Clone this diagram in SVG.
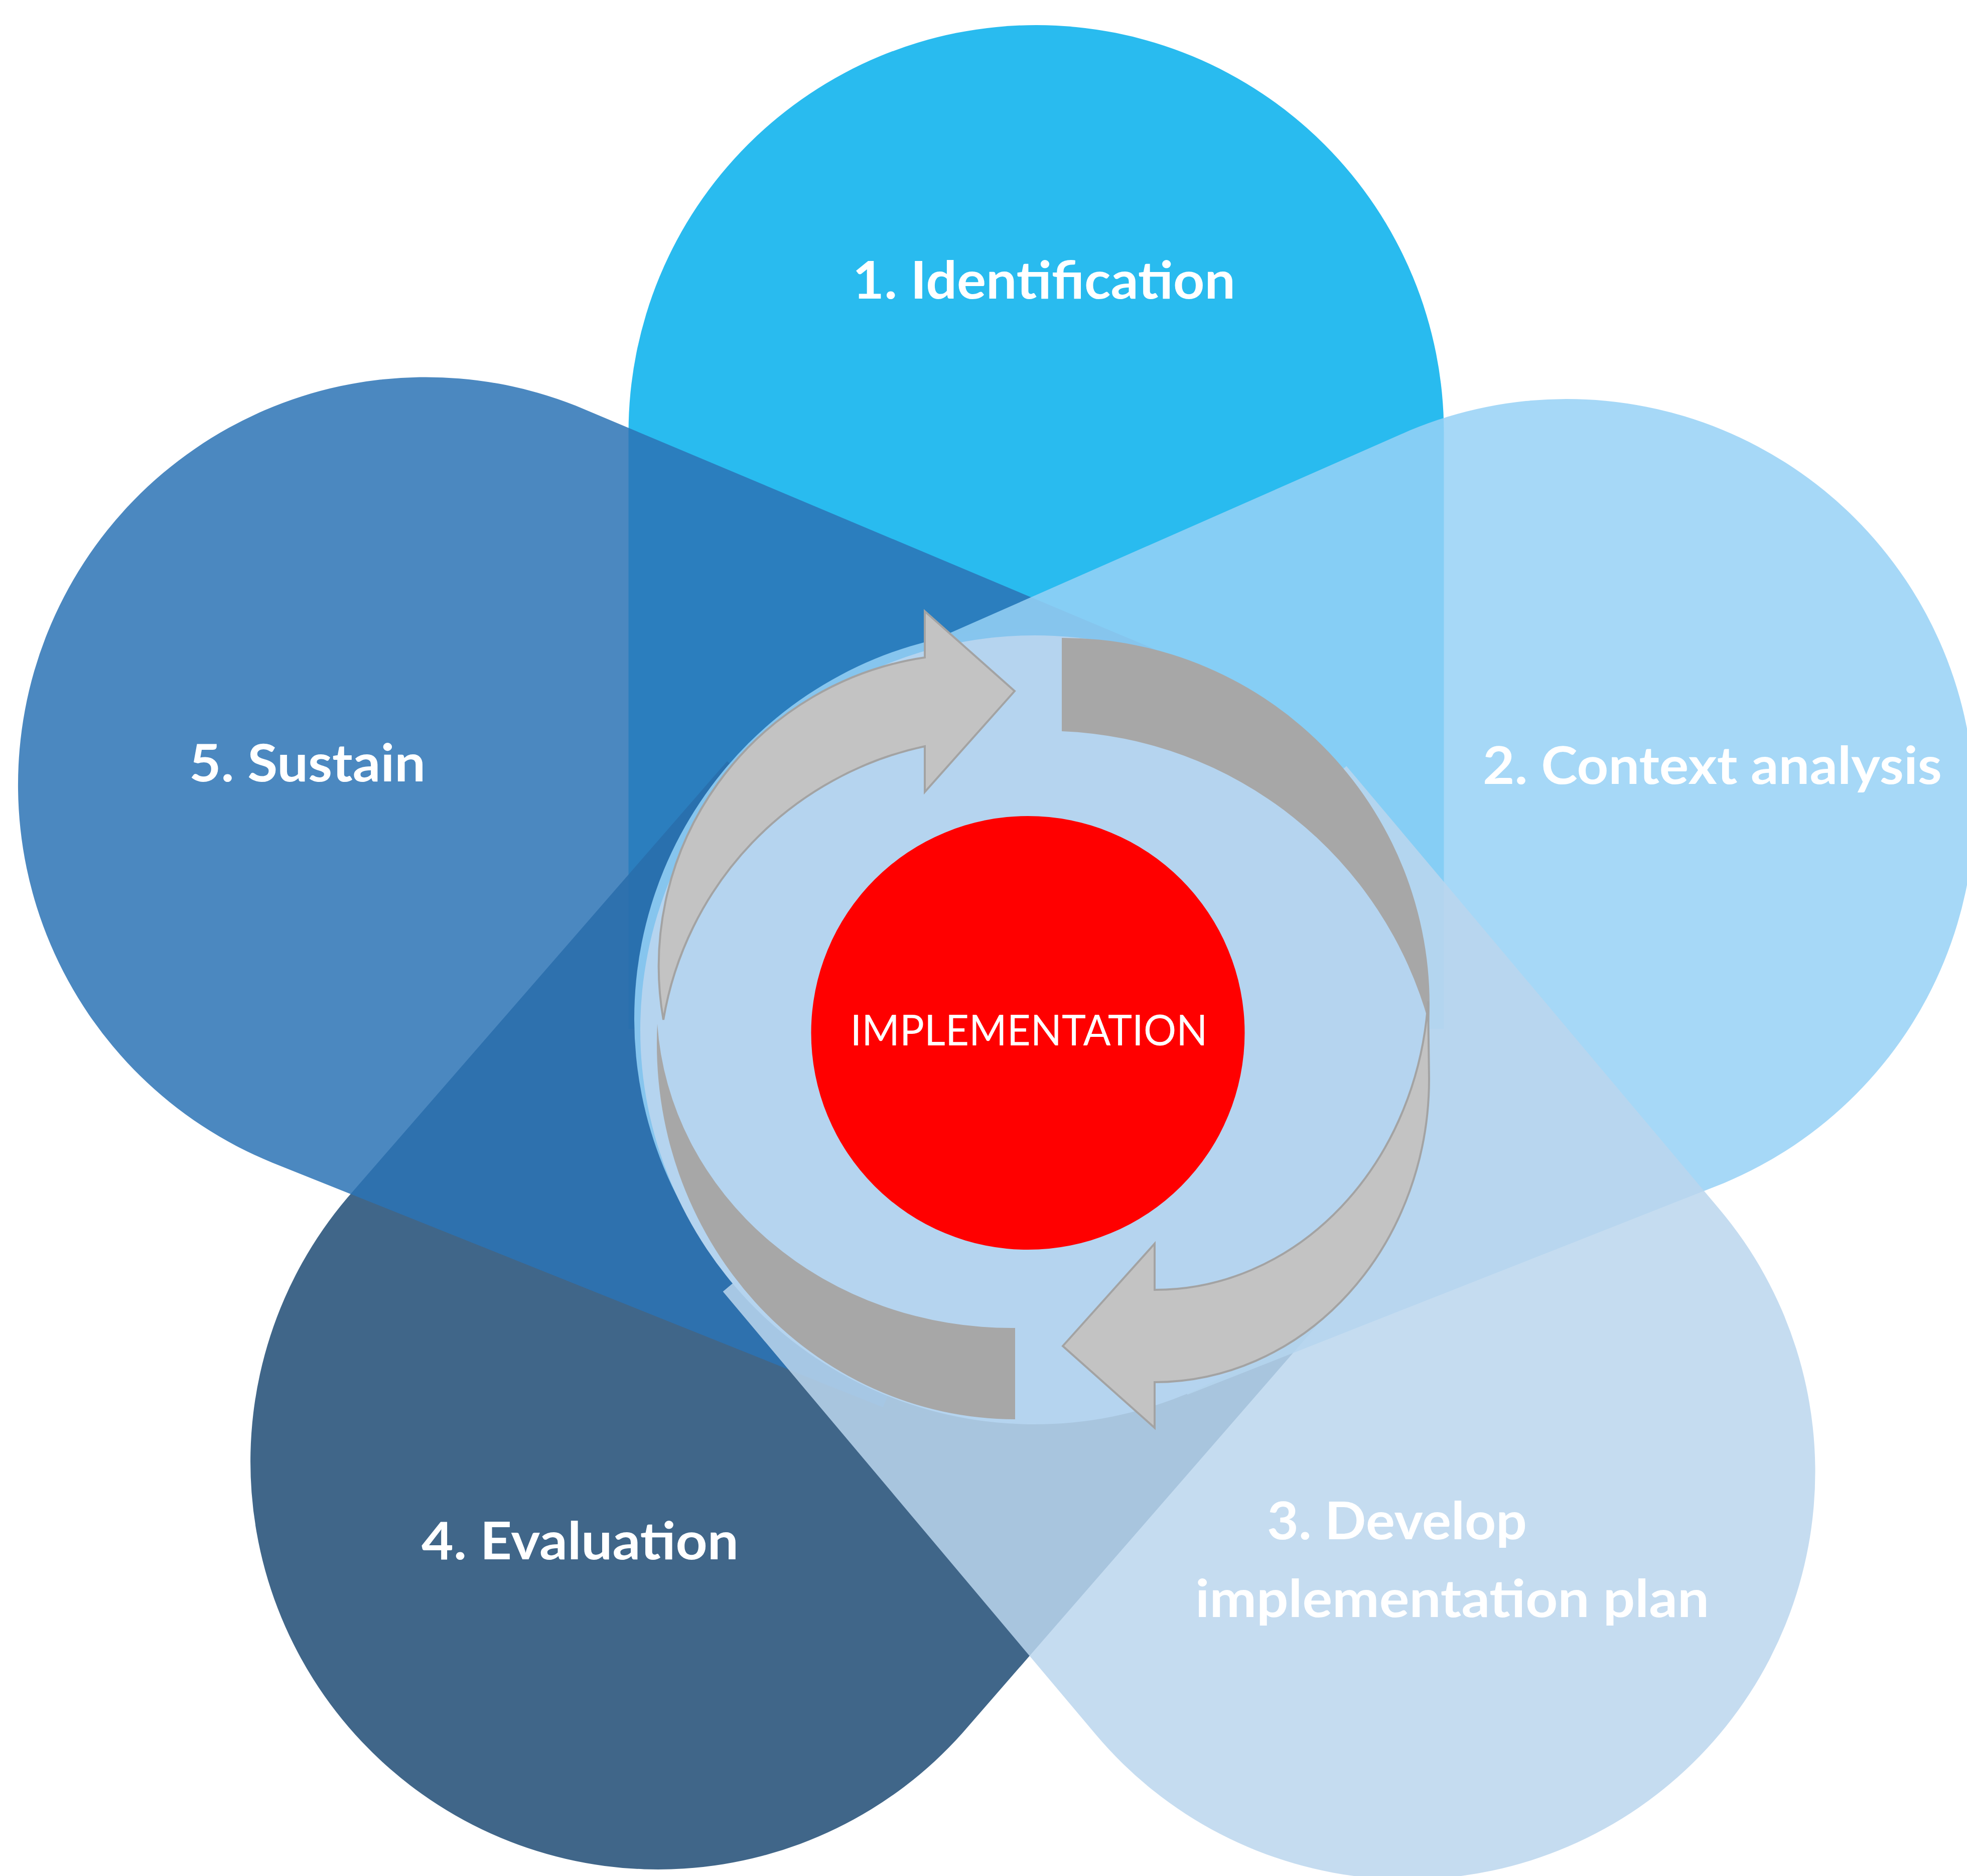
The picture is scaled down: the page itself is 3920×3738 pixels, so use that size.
<svg xmlns="http://www.w3.org/2000/svg" width="3920" height="3738" viewBox="0 0 3920 3738">
<style>
.petal{fill-opacity:0.85}
.lbl{font-family:Lato,"Open Sans","Liberation Sans",sans-serif;font-weight:700;font-size:103px;fill:#ffffff}
.clbl{font-family:Lato,"Open Sans","Liberation Sans",sans-serif;font-weight:400;font-size:85px;fill:#ffffff}
.light{fill:#C3C3C3;stroke:#A3A3A3;stroke-width:4;stroke-linejoin:miter}
.dark{fill:#A7A7A7}
</style>
<rect x="0" y="0" width="3920" height="3738" fill="#ffffff"/>
<g id="petal-1">
<path class="petal" fill="#03AFEC" d="M 2877.5 2050 L 2877.5 862.5 A 812.5 812.5 0 0 0 1252.5 862.5 L 1252.5 2050 Z"/>
<text class="lbl" x="1699" y="595" textLength="763" lengthAdjust="spacingAndGlyphs">1. Identification</text>
</g>
<g id="petal-4">
<path class="petal" fill="#1F4B74" d="M 1449.1 1516.7 L 692.1 2386.7 A 812.5 812.5 0 0 0 1917.9 3453.3 L 2674.9 2583.3 Z"/>
<text class="lbl" x="840" y="3107" textLength="632" lengthAdjust="spacingAndGlyphs">4. Evaluation</text>
</g>
<g id="petal-5">
<path class="petal" fill="#2C73B5" d="M 2355.8 1316.6 L 1147.2 808.3 A 812.5 812.5 0 0 0 542.8 2316.7 L 1759.8 2804.2 Z"/>
<text class="lbl" x="377" y="1557" textLength="471" lengthAdjust="spacingAndGlyphs">5. Sustain</text>
</g>
<g id="petal-2">
<path class="petal" fill="#96D1F6" d="M 2366.2 2779.1 L 3435.4 2357.4 A 812.5 812.5 0 0 0 2809.6 857.6 L 1757.8 1320.9 Z"/>
<text class="lbl" x="2955" y="1562" textLength="915" lengthAdjust="spacingAndGlyphs">2. Context analysis</text>
</g>
<g id="petal-3">
<path class="petal" fill="#BBD6ED" d="M 1440.7 2573.6 L 2183.7 3456.1 A 812.5 812.5 0 0 0 3426.3 2408.9 L 2683.3 1526.4 Z"/>
<text class="lbl" x="2525" y="3067" textLength="518" lengthAdjust="spacingAndGlyphs">3. Develop</text>
<text class="lbl" x="2382" y="3222" textLength="1024" lengthAdjust="spacingAndGlyphs">implementation plan</text>
</g>
<g id="hub">
<circle cx="2040" cy="2030" r="776" fill="#86C5EE"/>
<circle cx="2062" cy="2052" r="786" fill="#B5D4EF"/>
</g>
<g id="cycle-arrows">
<path class="dark" d="M 2116 1271 A 731 731 0 0 1 2848 2040 A 791 791 0 0 0 2116 1457 Z"/>
<path class="dark" d="M 2023 2828 A 715 748 0 0 1 1310 2040 A 706 646 0 0 0 2023 2646 Z"/>
<path class="light" d="M 1322 2032 A 622 622 0 0 1 1843 1310 L 1843 1218 L 2022 1377 L 1843 1578 L 1843 1487 A 671 671 0 0 0 1322 2032 Z"/>
<path class="light" d="M 2846 1995 L 2848 2150 A 547 604 0 0 1 2301 2754 L 2301 2845 L 2118 2682 L 2301 2478 L 2301 2570 A 545 620 0 0 0 2846 1995 Z"/>
</g>
<g id="implementation">
<circle cx="2048.5" cy="2058" r="432" fill="#FF0000"/>
<text class="clbl" x="1694.5" y="2082.5" textLength="712" lengthAdjust="spacingAndGlyphs">IMPLEMENTATION</text>
</g>
</svg>
